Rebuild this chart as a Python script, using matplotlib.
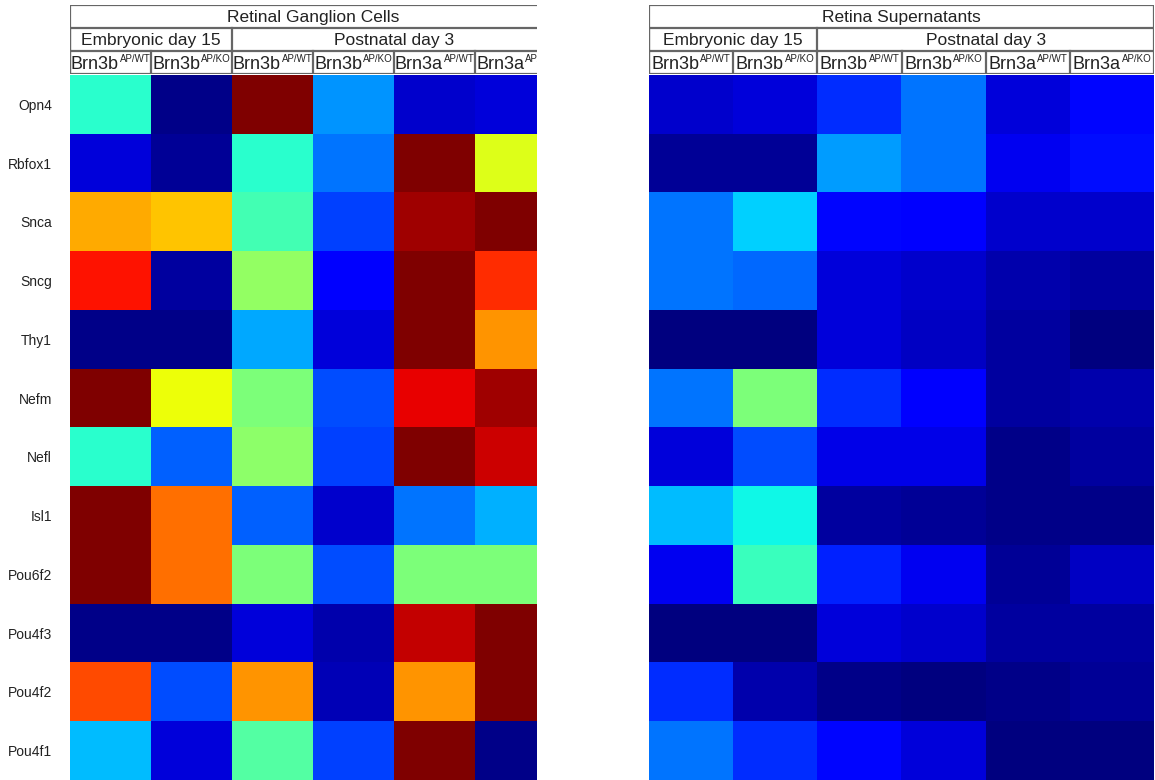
import numpy as np
import matplotlib
matplotlib.use('Agg')
import matplotlib.pyplot as plt
from matplotlib import font_manager

plt.rcParams['font.family'] = ['Liberation Sans', 'DejaVu Sans']

genes = ['Opn4', 'Rbfox1', 'Snca', 'Sncg', 'Thy1', 'Nefm', 'Nefl', 'Isl1',
         'Pou6f2', 'Pou4f3', 'Pou4f2', 'Pou4f1']
samples = [('Brn3b', 'AP/WT'), ('Brn3b', 'AP/KO'),
           ('Brn3b', 'AP/WT'), ('Brn3b', 'AP/KO'),
           ('Brn3a', 'AP/WT'), ('Brn3a', 'AP/KO')]
stages = ['Embryonic day 15', 'Postnatal day 3']
stage_span = [(0, 2), (2, 6)]
panel_titles = ['Retinal Ganglion Cells', 'Retina Supernatants']

# relative expression on jet scale (0..1), rows = genes, cols = samples
rgc = [
    [0.40, 0.01, 1.00, 0.27, 0.07, 0.08],
    [0.08, 0.02, 0.40, 0.24, 1.00, 0.62],
    [0.73, 0.70, 0.43, 0.19, 0.97, 1.00],
    [0.89, 0.03, 0.53, 0.12, 1.00, 0.86],
    [0.01, 0.01, 0.29, 0.08, 1.00, 0.75],
    [1.00, 0.64, 0.50, 0.20, 0.91, 0.97],
    [0.40, 0.22, 0.52, 0.19, 1.00, 0.93],
    [1.00, 0.79, 0.22, 0.07, 0.24, 0.30],
    [1.00, 0.79, 0.50, 0.20, 0.50, 0.50],
    [0.01, 0.01, 0.08, 0.04, 0.94, 1.00],
    [0.83, 0.20, 0.75, 0.05, 0.75, 1.00],
    [0.31, 0.08, 0.45, 0.19, 1.00, 0.01],
]
sup = [
    [0.07, 0.08, 0.17, 0.24, 0.08, 0.13],
    [0.02, 0.02, 0.28, 0.24, 0.10, 0.14],
    [0.24, 0.33, 0.13, 0.12, 0.07, 0.07],
    [0.24, 0.23, 0.08, 0.07, 0.04, 0.03],
    [0.00, 0.00, 0.08, 0.06, 0.03, 0.00],
    [0.24, 0.50, 0.17, 0.12, 0.03, 0.04],
    [0.08, 0.20, 0.09, 0.09, 0.01, 0.03],
    [0.31, 0.37, 0.03, 0.02, 0.01, 0.01],
    [0.10, 0.42, 0.16, 0.10, 0.02, 0.06],
    [0.00, 0.00, 0.08, 0.07, 0.03, 0.03],
    [0.17, 0.04, 0.01, 0.00, 0.01, 0.02],
    [0.24, 0.17, 0.13, 0.08, 0.00, 0.00],
]

# narrow face for the crowded sample labels, if it is installed
names = {f.name for f in font_manager.fontManager.ttflist}
narrow = 'Liberation Sans Narrow' if 'Liberation Sans Narrow' in names \
    else 'Liberation Sans'

W, H = 1155, 780
fig = plt.figure(figsize=(W / 100, H / 100), dpi=100)
sample_texts = []


def fx(px):
    return px / W


def fy(px):
    return 1 - px / H


def panel(data, title, x0, x1, colw, show_genes):
    xmax = -0.5 + (x1 - x0) / colw
    ax = fig.add_axes([fx(x0), fy(780), fx(x1 - x0), (780 - 75) / H])
    ax.imshow(np.array(data), cmap='jet', vmin=0, vmax=1, aspect='auto',
              interpolation='nearest')
    ax.set_xlim(-0.5, xmax)
    ax.set_xticks([])
    ax.set_yticks(range(len(genes)))
    if show_genes:
        ax.set_yticklabels(genes, fontsize=10, color='#222222')
    else:
        ax.set_yticklabels([])
    ax.tick_params(axis='y', length=0, pad=13)
    for s in ax.spines.values():
        s.set_visible(False)

    # header table
    hx = fig.add_axes([fx(x0), fy(74), fx(x1 - x0), (74 - 5) / H])
    hx.set_xlim(-0.5, xmax)
    hx.set_ylim(0, 3)
    hx.axis('off')
    lc = '#666666'
    lw = 1.6
    for y in [0, 1, 2, 3]:
        hx.plot([-0.5, 5.5], [y, y], color=lc, lw=lw, clip_on=True)
    for x in [-0.5, 5.5]:
        hx.plot([x, x], [0, 3], color=lc, lw=lw, clip_on=True)
    hx.text(2.5, 2.47, title, ha='center', va='center', fontsize=12.5,
            color='#222222', clip_on=True)
    for name, (a, b) in zip(stages, stage_span):
        hx.plot([a - 0.5, a - 0.5], [1, 2], color=lc, lw=lw, clip_on=True)
        hx.text((a + b - 1) / 2, 1.47, name, ha='center', va='center',
                fontsize=12.5, color='#222222', clip_on=True)
    for i, (base, sup_txt) in enumerate(samples):
        hx.plot([i - 0.5, i - 0.5], [0, 1], color=lc, lw=lw, clip_on=True)
        tb = hx.text(i, 0.2, base, ha='left', va='baseline', fontsize=13,
                     family=[narrow, 'DejaVu Sans'], color='#222222',
                     clip_on=True)
        ts = hx.text(i, 0.5, sup_txt, ha='left', va='baseline',
                     fontsize=7, color='#222222', clip_on=True)
        sample_texts.append((hx, i, tb, ts))


panel(rgc, panel_titles[0], 70, 537, 81, True)
panel(sup, panel_titles[1], 649, 1154, 84.2, False)

# centre each base+superscript pair in its cell
fig.canvas.draw()
renderer = fig.canvas.get_renderer()
for hx, i, tb, ts in sample_texts:
    wb = tb.get_window_extent(renderer).width
    ws = ts.get_window_extent(renderer).width
    px_per_unit = hx.transData.transform((1, 0))[0] - \
        hx.transData.transform((0, 0))[0]
    total = (wb + ws + 1) / px_per_unit
    left = i - total / 2
    tb.set_x(left)
    ts.set_x(left + (wb + 1) / px_per_unit)

fig.savefig('out.png', dpi=100)
